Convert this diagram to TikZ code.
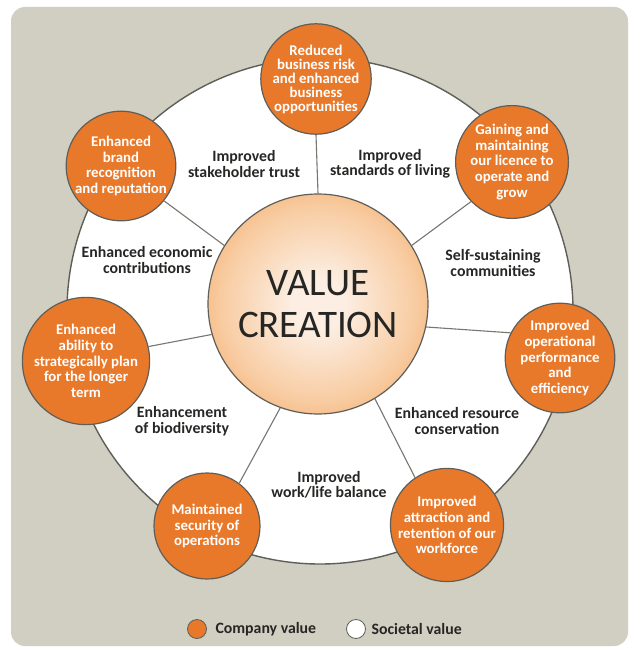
\documentclass[tikz,border=0pt]{standalone}
\usepackage{fontspec}
\setmainfont{Carlito}
\definecolor{cvorange}{HTML}{E9792A}
\definecolor{framegray}{HTML}{D1CFC2}
\definecolor{rimgray}{HTML}{5F5E58}
\definecolor{spokegray}{HTML}{77766F}
\definecolor{txtgray}{HTML}{262624}
\definecolor{vcin}{HTML}{FCEEE2}
\definecolor{vcmid}{HTML}{F8CCA2}
\definecolor{vcdeep}{HTML}{F3A45E}
\definecolor{vcout}{HTML}{EB822E}
\pgfdeclareradialshading{vcglow}{\pgfpoint{0bp}{0bp}}{color(0bp)=(vcin); color(6bp)=(vcin); color(22bp)=(vcmid); color(34bp)=(vcdeep); color(46bp)=(vcout); color(50bp)=(vcout)}
\begin{document}
\begin{tikzpicture}[x=1pt, y=-1pt,
    company/.style={circle, draw=rimgray, line width=1.2pt, fill=cvorange, minimum size=106pt, inner sep=0pt, align=center, text=white, font=\fontsize{14.8}{15.8}\selectfont\bfseries},
    societal/.style={align=center, text=txtgray, font=\fontsize{15.8}{15.5}\selectfont\bfseries},
    spoke/.style={draw=spokegray, line width=1.1pt}]
    \useasboundingbox (0,0) rectangle (633,650);
    \fill[white] (0,0) rectangle (633,650);
    \fill[framegray, rounded corners=14pt] (11,7) rectangle (628,646);
    \draw[rimgray, line width=1.4pt, fill=white] (320,311) circle (253pt);
    % centre
    \node[circle, draw=rimgray, line width=1.2pt, shading=vcglow, minimum size=220pt, inner sep=0pt, align=center, text=txtgray, font=\fontsize{39}{42}\selectfont] (vc) at (318,304) {VALUE\\CREATION};
    % company value
    \node[company, font=\fontsize{14.8}{14}\selectfont\bfseries] (risk) at (316,79) {Reduced\\business risk\\and enhanced\\business\\opportunities};
    \node[company] (licence) at (512,162) {Gaining and\\maintaining\\our licence to\\operate and\\grow};
    \node[company] (ops) at (560,358) {Improved\\operational\\performance\\and\\efficiency};
    \node[company] (staff) at (447,525) {Improved\\attraction and\\retention of our\\workforce};
    \node[company] (secure) at (207,526) {Maintained\\security of\\operations};
    \node[company] (plan) at (86,361) {Enhanced\\ability to\\strategically plan\\for the longer\\term};
    \node[company] (brand) at (121,166) {Enhanced\\brand\\recognition\\and reputation};
    \draw[spoke] (vc.90) -- (risk.-90);
    \draw[spoke] (vc.32) -- (licence.224);
    \draw[spoke] (vc.-12) -- (ops.153);
    \draw[spoke] (vc.-59) -- (staff.124);
    \draw[spoke] (vc.250) -- (secure.53);
    \draw[spoke] (vc.196) -- (plan.13);
    \draw[spoke] (vc.148) -- (brand.-39);
    % societal value
    \node[societal] (trust) at (244,164) {Improved\\stakeholder trust};
    \node[societal] (living) at (390,164) {Improved\\standards of living};
    \node[societal] (communities) at (493,263) {Self-sustaining\\communities};
    \node[societal] (resource) at (457,421) {Enhanced resource\\conservation};
    \node[societal] (balance) at (329,485) {Improved\\work/life balance};
    \node[societal] (biodiversity) at (182,421) {Enhancement\\of biodiversity};
    \node[societal] (economic) at (147,260) {Enhanced economic\\contributions};
    % legend
    \node[circle, draw=rimgray, line width=0.8pt, fill=cvorange, minimum width=19pt, inner sep=0pt] (keyco) at (197,629) {};
    \node[societal, anchor=west] (keycotxt) at (212,629) {Company value};
    \node[circle, draw=rimgray, line width=0.8pt, fill=white, minimum width=19pt, inner sep=0pt] (keyso) at (356,629) {};
    \node[societal, anchor=west] (keysotxt) at (368,629) {Societal value};
\end{tikzpicture}
\end{document}
